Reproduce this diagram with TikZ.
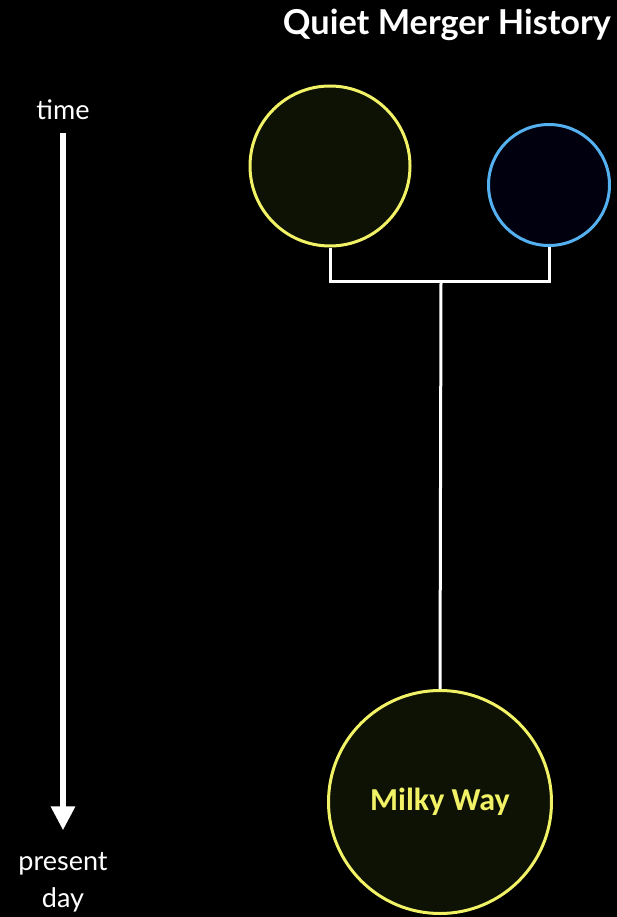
\documentclass[tikz,border=0pt]{standalone}
\usepackage{fontspec}
\setmainfont{Lato}
\newfontfamily\mwfont{Carlito}
\usetikzlibrary{arrows.meta, positioning}
\definecolor{haloyellow}{HTML}{F2F266}
\definecolor{haloblue}{HTML}{55B0F0}
\definecolor{darkolive}{HTML}{0E1205}
\definecolor{darknavy}{HTML}{00000F}

\begin{document}
\begin{tikzpicture}[x=1pt, y=-1pt,
    galaxy/.style={circle, draw=haloyellow, fill=darkolive, line width=3pt, inner sep=0pt},
    dwarf/.style={circle, draw=haloblue, fill=darknavy, line width=3pt, inner sep=0pt},
    axislbl/.style={font=\fontsize{27}{37}\selectfont, text=white, align=center},
    tree/.style={draw=white, line width=3pt}
]
    \fill[black] (0,0) rectangle (617,917);
    \useasboundingbox (0,0) rectangle (617,917);

    \node[anchor=base, text=white, font=\bfseries\fontsize{34.3}{38}\selectfont] (title) at (447,35) {Quiet Merger History};

    % time axis
    \node[axislbl, anchor=base] (time) at (63,120) {time};
    \node[axislbl, anchor=base] (present) at (63,907) {present\\day};
    \draw[-{Triangle[width=23pt, length=24pt]}, white, line width=6pt, shorten <=9pt, shorten >=18pt] (time) -- (present);

    % progenitors and merger tree
    \node[galaxy, minimum size=160pt] (progA) at (330,166) {};
    \node[dwarf, minimum size=121pt] (progB) at (549,185) {};
    \node[galaxy, minimum size=223pt, text=haloyellow, font=\mwfont\bfseries\fontsize{32}{36}\selectfont] (mw) at (440,802) {Milky Way};
    \coordinate (join) at (441,281);

    \draw[tree] (progA.south) |- (join) -| (progB.south);
    \draw[tree] (join) -- (mw.north);
\end{tikzpicture}
\end{document}
